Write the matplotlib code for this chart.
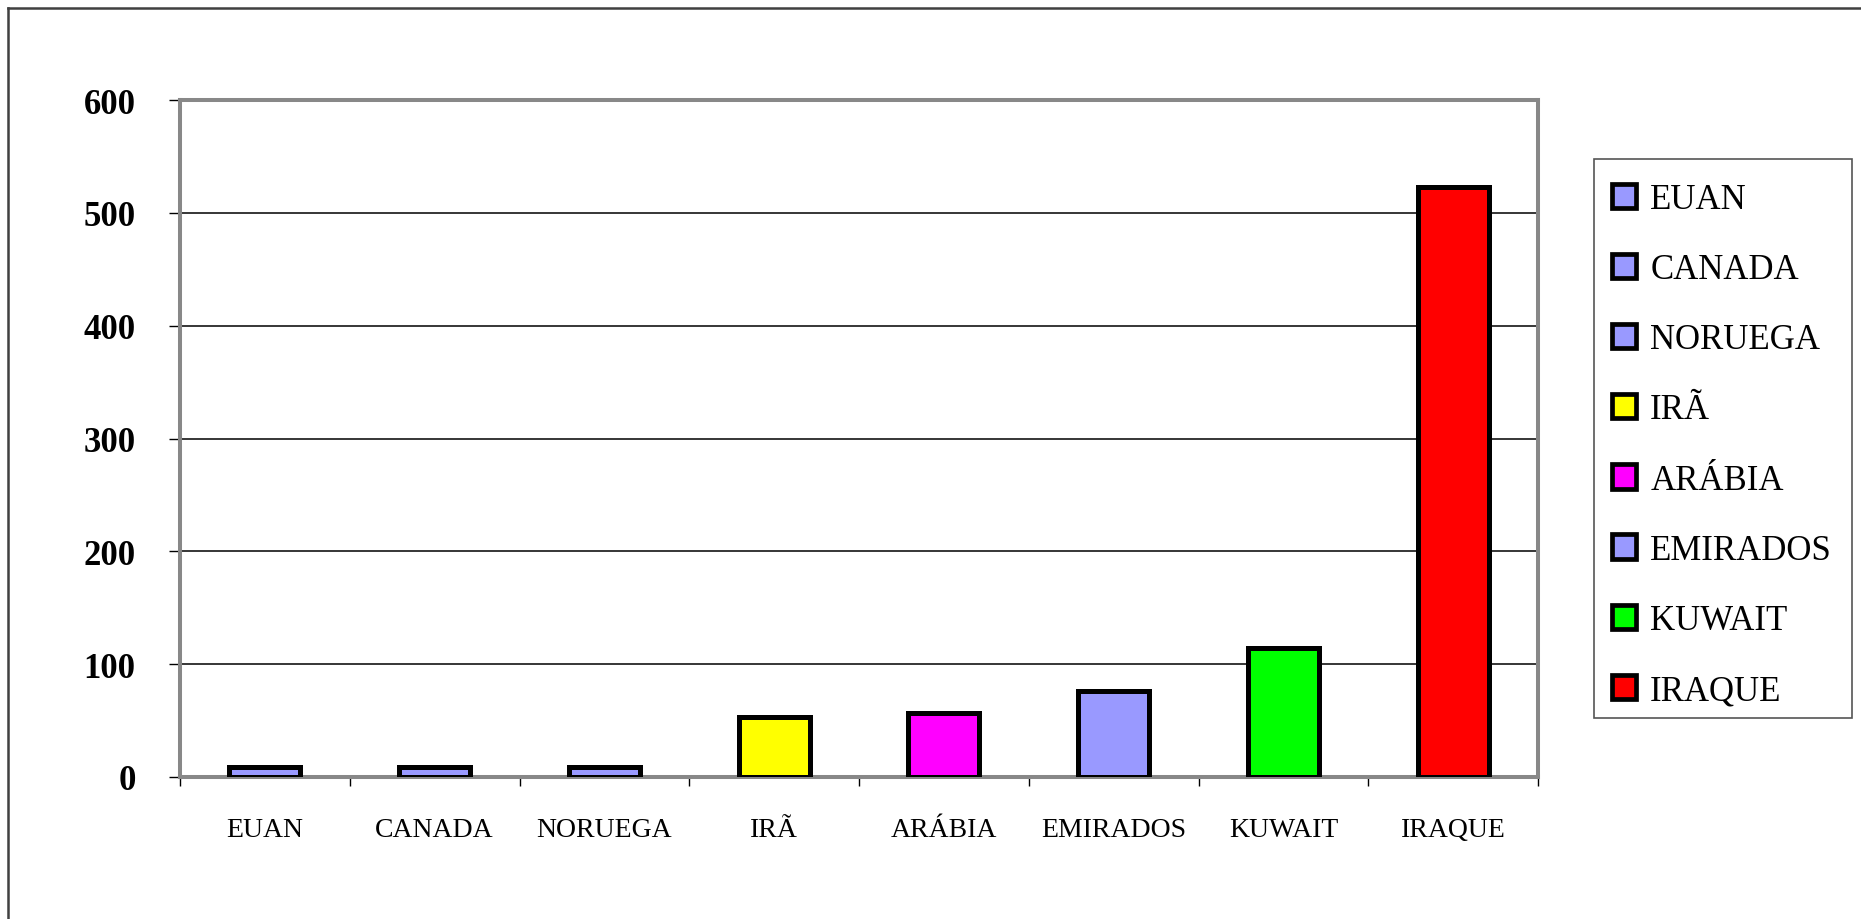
import matplotlib
matplotlib.use("Agg")
import matplotlib.pyplot as plt
from matplotlib.patches import Patch, Rectangle
from matplotlib.lines import Line2D

# reservas por pais
paises = ["EUAN", "CANADA", "NORUEGA", "IRÃ", "ARÁBIA", "EMIRADOS", "KUWAIT", "IRAQUE"]
valores = [9, 9, 9, 53, 57, 76, 114, 523]
cores = ["#9999FF", "#9999FF", "#9999FF", "#FFFF00", "#FF00FF", "#9999FF", "#00FF00", "#FF0000"]
yticks = [0, 100, 200, 300, 400, 500, 600]

W, H = 1861, 920
fig = plt.figure(figsize=(W / 100, H / 100), dpi=100)
fig.patch.set_facecolor("white")

# borda externa (so esquerda e topo aparecem)
fig.add_artist(Line2D([8 / W, 8 / W], [0, 1 - 9 / H], color="#404040", lw=1.8))
fig.add_artist(Line2D([8 / W, 1], [1 - 9 / H, 1 - 9 / H], color="#404040", lw=1.8))

ax = fig.add_axes([180 / W, 1 - 778 / H, (1538 - 180) / W, (778 - 101) / H])

x = list(range(len(paises)))
ax.bar(x, valores, width=0.418, color=cores, edgecolor="black", linewidth=3.6, zorder=3)

ax.set_xlim(-0.5, len(paises) - 0.5)
ax.set_ylim(0, 600)

# grade horizontal
ax.set_yticks(yticks)
ax.yaxis.grid(True, color="black", linewidth=1.1)
ax.set_axisbelow(True)

for s in ax.spines.values():
    s.set_color("#888888")
    s.set_linewidth(2.9)

ax.set_yticklabels([str(v) for v in yticks], fontfamily="Liberation Serif",
                   fontweight="bold", fontsize=25)
ax.tick_params(axis="y", length=8, width=1, color="black", pad=24)

ax.set_xticks(x)
ax.set_xticklabels(paises, fontfamily="Liberation Serif", fontsize=20)
ax.set_xticks([i - 0.5 for i in range(len(paises) + 1)], minor=True)
ax.tick_params(axis="x", which="major", length=0, pad=29)
ax.tick_params(axis="x", which="minor", length=6.5, width=1, color="black")

# legenda
handles = [Patch(facecolor=c, edgecolor="black", linewidth=3.4, label=p)
           for p, c in zip(paises, cores)]
leg = fig.legend(handles=handles, loc="upper left",
                 bbox_to_anchor=(1612 / W, 1 - 184 / H), frameon=False,
                 borderpad=0, borderaxespad=0, handlelength=0.7, handleheight=0.7,
                 handletextpad=0.4, labelspacing=1.07,
                 prop={"family": "Liberation Serif", "size": 25})
fig.add_artist(Rectangle((1594 / W, 1 - 719 / H), (1852 - 1594) / W, (719 - 160) / H,
                         transform=fig.transFigure, fill=False,
                         edgecolor="#555555", linewidth=1.2))

fig.savefig("out.png", dpi=100)
